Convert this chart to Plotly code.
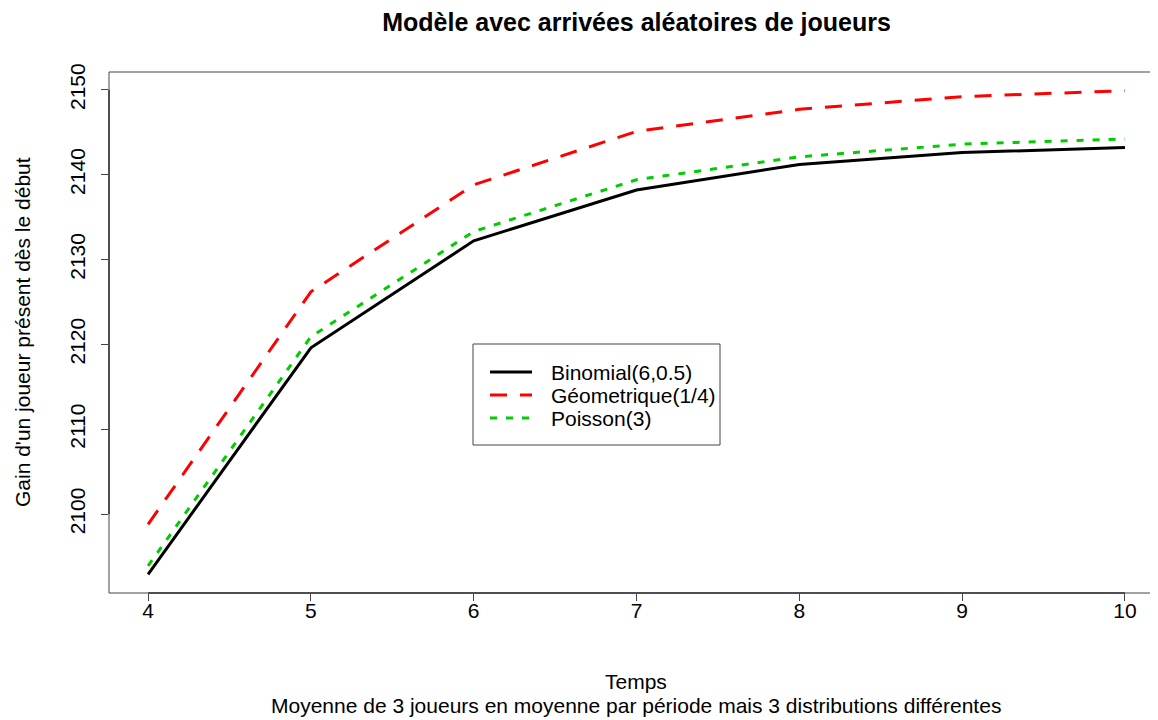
import plotly.graph_objects as go

# ---- data ----
temps = [4, 5, 6, 7, 8, 9, 10]
binomial = [2092.9, 2119.6, 2132.2, 2138.2, 2141.2, 2142.6, 2143.2]
geometrique = [2098.8, 2126.2, 2138.8, 2145.1, 2147.7, 2149.2, 2149.9]
poisson = [2093.9, 2120.9, 2133.3, 2139.4, 2142.1, 2143.6, 2144.2]
series_names = ["Binomial(6,0.5)", "Géometrique(1/4)", "Poisson(3)"]
y_ticks = [2100, 2110, 2120, 2130, 2140, 2150]
x_ticks = [4, 5, 6, 7, 8, 9, 10]

title = "<b>Modèle avec arrivées aléatoires de joueurs</b>"
x_title = "Temps"
subtitle = "Moyenne de 3 joueurs en moyenne par période mais 3 distributions différentes"
y_title = "Gain d'un joueur présent dès le début"

# ---- styles ----
colors = ["black", "#FF0000", "#00CD00"]
dashes = ["solid", "17px,13px", "7px,9px"]
series = [binomial, geometrique, poisson]

# ---- layout geometry (page pixels; page body has an 8px offset) ----
OFF = 8
W, H = 1158 - OFF, 720 - OFF
ML, MR, MT, MB = 109 - OFF, 0, 72 - OFF, 720 - 593
FONT = "Liberation Sans, Arial, Helvetica, sans-serif"
FS = 21
AX = "#444444"

pw = W - ML - MR
ph = H - MT - MB


def px_x(px):
    return (px - OFF - ML) / pw


def px_y(py):
    return (H - MB - (py - OFF)) / ph


fig = go.Figure()
for name, vals, col, dsh in zip(series_names, series, colors, dashes):
    fig.add_trace(go.Scatter(x=temps, y=vals, mode="lines", name=name, showlegend=False,
                             line=dict(color=col, width=3, dash=dsh)))

shapes = [
    # plot box (right side extends beyond the page)
    dict(type="rect", xref="x domain", yref="y domain", x0=0, x1=1.05, y0=0, y1=1,
         line=dict(color=AX, width=1), layer="below"),
    # axis lines spanning the ticks
    dict(type="line", xref="x", yref="y domain", x0=min(x_ticks), x1=max(x_ticks),
         y0=0, y1=0, line=dict(color="#333333", width=1.5)),
    dict(type="line", xref="x domain", yref="y", x0=0, x1=0,
         y0=min(y_ticks), y1=max(y_ticks), line=dict(color="#333333", width=1.5)),
    # legend box
    dict(type="rect", xref="paper", yref="paper", x0=px_x(473), x1=px_x(720),
         y0=px_y(445), y1=px_y(344), line=dict(color=AX, width=1),
         fillcolor="white", layer="above"),
]
annotations = [
    dict(text=x_title, xref="paper", yref="paper", x=px_x(636), y=px_y(681),
         xanchor="center", yanchor="middle", showarrow=False, font=dict(size=FS)),
    dict(text=subtitle, xref="paper", yref="paper", x=px_x(636), y=px_y(705),
         xanchor="center", yanchor="middle", showarrow=False, font=dict(size=FS)),
    dict(text=y_title, xref="paper", yref="paper", x=px_x(22), y=px_y(332),
         xanchor="center", yanchor="middle", showarrow=False, textangle=-90,
         font=dict(size=FS)),
]

# legend entries (drawn manually to match R's compact legend)
row_y = [372, 395, 418]
for name, col, dsh, ry in zip(series_names, colors, dashes, row_y):
    shapes.append(dict(type="line", xref="paper", yref="paper", x0=px_x(490), x1=px_x(532),
                       y0=px_y(ry), y1=px_y(ry), line=dict(color=col, width=3, dash=dsh),
                       layer="above"))
    annotations.append(dict(text=name, xref="paper", yref="paper", x=px_x(549), y=px_y(ry),
                            xanchor="left", yanchor="middle", showarrow=False,
                            font=dict(size=FS)))

fig.update_layout(
    width=W, height=H,
    margin=dict(l=ML, r=MR, t=MT, b=MB),
    paper_bgcolor="white", plot_bgcolor="white",
    font=dict(family=FONT, size=FS, color="black"),
    title=dict(text=title, x=(ML + OFF + 1164) / 2 / W - OFF / W, xanchor="center",
               y=1 - (22 - OFF) / H, yanchor="middle", font=dict(size=25)),
    xaxis=dict(range=[3.76, 10.203], tickvals=x_ticks, showgrid=False, zeroline=False,
               showline=False, ticks="outside", ticklen=7, tickcolor=AX, tickwidth=1,
               tickfont=dict(size=FS), ticklabelstandoff=-8),
    yaxis=dict(range=[2090.7, 2152.1], tickvals=y_ticks, showgrid=False, zeroline=False,
               showline=False, ticks="outside", ticklen=7, tickcolor=AX, tickwidth=1,
               tickangle=-90, tickfont=dict(size=FS), ticklabelstandoff=8),
    showlegend=False,
    shapes=shapes,
    annotations=annotations,
)

fig.write_html("out.html")
